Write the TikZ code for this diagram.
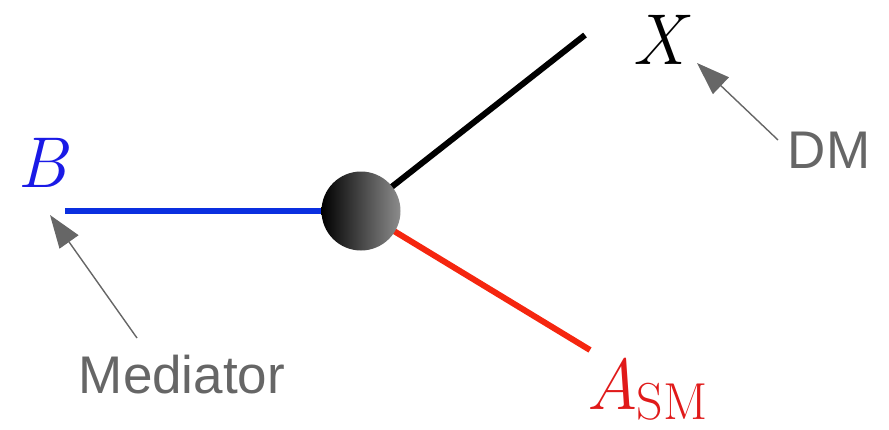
\documentclass[tikz,border=0pt]{standalone}
\usepackage{fontspec}
\setsansfont{Liberation Sans}
\usetikzlibrary{arrows.meta}
\definecolor{lblue}{HTML}{0A2FE0}
\definecolor{lred}{HTML}{F5260F}
\definecolor{tblue}{HTML}{1A1AE6}
\definecolor{tred}{HTML}{E01A1A}
\definecolor{note}{HTML}{666666}
\begin{document}
\begin{tikzpicture}[x=1pt,y=-1pt,
  leg/.style={line width=6pt},
  notearrow/.style={note,line width=1.4pt,-{Triangle[length=33pt,width=23pt]}},
  notetext/.style={note,font=\sffamily\fontsize{53}{58}\selectfont,inner sep=0pt},
  mathlbl/.style={font=\itshape\fontsize{72}{76}\selectfont,inner sep=0pt}]
\useasboundingbox (0,0) rectangle (889,429);
\coordinate (bend) at (65,211);
\coordinate (xend) at (585,35);
\coordinate (aend) at (590,350);
\coordinate (ctr) at (361,211);
\draw[leg,lblue] (bend) -- (ctr);
\draw[leg,black] (ctr) -- (xend);
\draw[leg,lred] (ctr) -- (aend);
\node[circle,minimum size=79pt,inner sep=0pt,left color=black,right color=black!45,shading angle=90] (c) at (ctr) {};
\node[mathlbl,text=tblue] (B) at (42,163) {B};
\node[mathlbl] (X) at (659,40) {X};
\node[mathlbl,text=tred,anchor=base west] (A) at (586,409) {A\kern-2pt\raisebox{-10pt}{\upshape\fontsize{52}{56}\selectfont SM}};
\node[notetext] (DM) at (829,150) {DM};
\node[notetext] (Med) at (182,375) {Mediator};
\coordinate (mtail) at (137,338);
\coordinate (mtip) at (50,215);
\coordinate (dtail) at (778,140);
\coordinate (dtip) at (697,63);
\draw[notearrow] (mtail) -- (mtip);
\draw[notearrow] (dtail) -- (dtip);
\end{tikzpicture}
\end{document}
